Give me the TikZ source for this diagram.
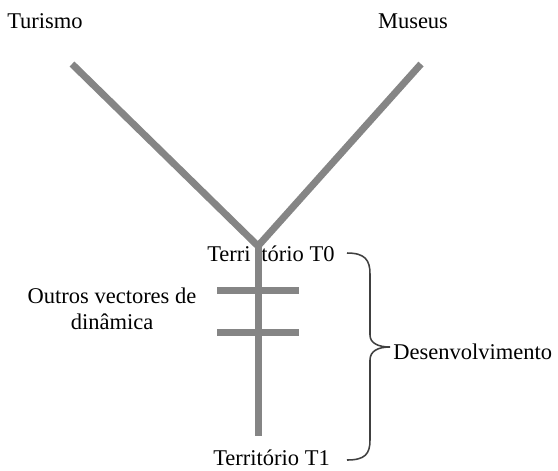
\documentclass[tikz,border=0pt]{standalone}
\usepackage{fontspec}
\setmainfont{Liberation Serif}
\usepackage{tikz}
\usetikzlibrary{positioning,calc}
\definecolor{StemGrey}{HTML}{858585}
\definecolor{BraceGrey}{HTML}{404040}

\begin{document}
\begin{tikzpicture}[x=0.025cm,y=-0.025cm, every node/.style={font=\fontsize{16}{18.5}\selectfont,inner sep=0pt},
  stem/.style={line width=0.175cm,StemGrey},
  bracket/.style={line width=1.1pt,BraceGrey}]
  \useasboundingbox (0,0) rectangle (558,470);
  % labels
  \node[anchor=base] (tur) at (45,28) {Turismo};
  \node[anchor=base] (mus) at (413,28) {Museus};
  \node[anchor=base west] (t0) at (207,261) {Terri\hspace{0.27cm}tório T0};
  \node[anchor=base] (t1) at (271.5,465) {Território T1};
  \node[align=center] (outros) at (112,309) {Outros vectores de\\dinâmica};
  \node[anchor=west] (des) at (393,352) {Desenvolvimento};
  % tree
  \coordinate (tl) at (72,64);
  \coordinate (tr) at (421,64);
  \coordinate (j) at (258,246);
  \coordinate (bot) at (258,436);
  \draw[stem] (tl) -- (j) -- (tr);
  \draw[stem] (j) -- (bot);
  \foreach \y in {290.5,332.5}
    \draw[stem] (217,\y) -- (299,\y);
  % brace
  \draw[bracket] (347,253) .. controls (365,253) and (370,260) .. (370,274) -- (370,335)
    .. controls (370,343) and (378,347) .. (390,347)
    .. controls (378,347) and (370,351) .. (370,360) -- (370,440)
    .. controls (370,454) and (365,460) .. (347,460);
\end{tikzpicture}
\end{document}
